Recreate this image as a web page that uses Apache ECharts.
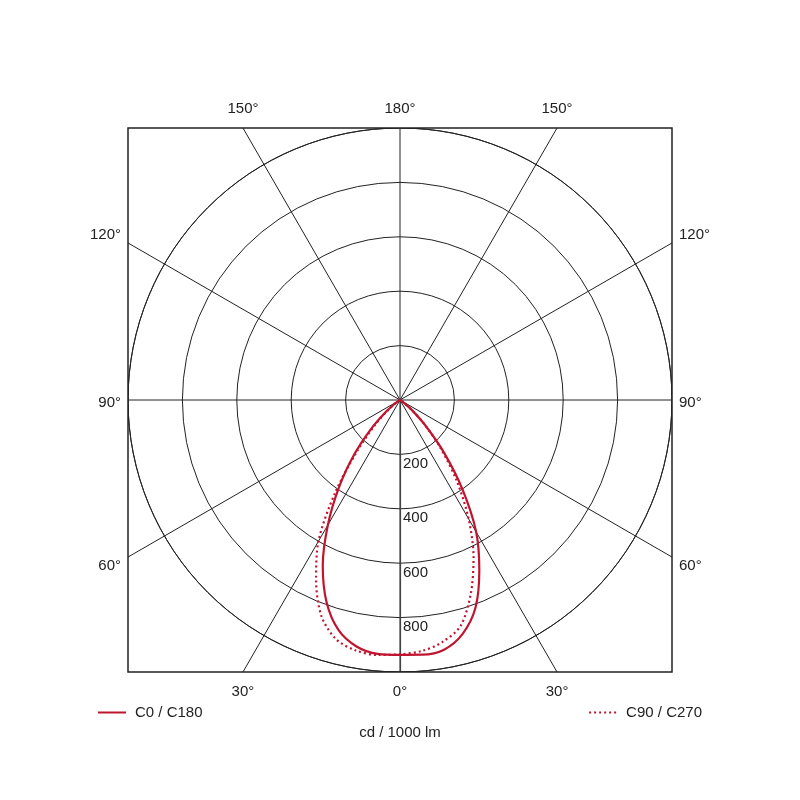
<!DOCTYPE html>
<html>
<head>
<meta charset="utf-8">
<title>Polar light distribution</title>
<script src="https://cdn.jsdelivr.net/npm/echarts@6/dist/echarts.min.js"></script>
<style>
    html, body { margin: 0; padding: 0; background: #fff; }
    #main { width: 800px; height: 800px; }
</style>
</head>
<body>
<div id="main"></div>
<script>
    // gamma angles (deg from nadir) and intensities in cd / 1000 lm
    var gammas = [0, 5, 10, 15, 20, 25, 30, 35, 40, 45, 50, 55, 60, 65, 70];
    var c0   = [937, 940, 932, 890, 812, 690, 560, 400, 250, 130, 55, 15, 3, 0, 0];
    var c180 = [937, 937, 920, 875, 790, 672, 530, 390, 262, 150, 65, 20, 4, 0, 0];
    var c90  = [935, 926, 903, 860, 760, 640, 505, 365, 235, 130, 55, 15, 3, 0, 0];
    var c270 = [935, 941, 935, 910, 845, 730, 600, 415, 245, 130, 55, 15, 3, 0, 0];

    var radiusTicks = [0, 200, 400, 600, 800, 1000];
    var angleTicks = [0, 30, 60, 90, 120, 150, 180];
    var angleTickLabels = ['0°', '30°', '60°', '90°', '120°', '150°', '180°'];
    var seriesNames = ['C0 / C180', 'C90 / C270'];
    var unitLabel = 'cd / 1000 lm';

    var CX = 400, CY = 400, R = 272;
    var RED = '#c0152f';
    var GRID = '#222';
    var FONT = 'Liberation Sans, Arial, sans-serif';

    // left half goes from 90 down to 0, right half back out to 90
    function buildCurve(left, right) {
        var pts = [];
        for (var i = gammas.length - 1; i >= 0; i--) {
            pts.push([left[i], gammas[i]]);
        }
        for (var j = 1; j < gammas.length; j++) {
            pts.push([right[j], 360 - gammas[j]]);
        }
        return pts;
    }

    // angle labels sit where each spoke leaves the square frame
    function angleLabelElements() {
        var els = [];
        for (var i = 0; i < angleTicks.length; i++) {
            var sides = (angleTicks[i] === 0 || angleTicks[i] === 180) ? [1] : [-1, 1];
            for (var k = 0; k < sides.length; k++) {
                var a = angleTicks[i] * Math.PI / 180;
                var dx = -sides[k] * Math.sin(a);
                var dy = Math.cos(a);
                if (Math.abs(dx) < 1e-9) dx = 0;
                if (Math.abs(dy) < 1e-9) dy = 0;
                var s = R / Math.max(Math.abs(dx), Math.abs(dy));
                var hx = CX + dx * s, hy = CY + dy * s;
                var st = {text: angleTickLabels[i], fill: '#222', font: '15px ' + FONT};
                var x, y;
                if (Math.abs(dy) >= Math.abs(dx)) {
                    x = hx;
                    st.align = 'center';
                    if (dy < 0) { y = hy - 12; st.verticalAlign = 'bottom'; }
                    else { y = hy + 12; st.verticalAlign = 'top'; }
                } else {
                    if (dx < 0) { x = hx - 7; st.align = 'right'; }
                    else { x = hx + 7; st.align = 'left'; }
                    if (dy < 0) { y = hy - 1; st.verticalAlign = 'bottom'; }
                    else if (dy > 0) { y = hy + 1; st.verticalAlign = 'top'; }
                    else { y = hy + 3; st.verticalAlign = 'middle'; }
                }
                st.x = x;
                st.y = y;
                els.push({type: 'text', z: 30, style: st});
            }
        }
        return els;
    }

    var masks = [
        {type: 'rect', z: 10, shape: {x: 0, y: 0, width: 800, height: CY - R}, style: {fill: '#fff'}},
        {type: 'rect', z: 10, shape: {x: 0, y: CY + R, width: 800, height: 800 - CY - R}, style: {fill: '#fff'}},
        {type: 'rect', z: 10, shape: {x: 0, y: 0, width: CX - R, height: 800}, style: {fill: '#fff'}},
        {type: 'rect', z: 10, shape: {x: CX + R, y: 0, width: 800 - CX - R, height: 800}, style: {fill: '#fff'}},
        {type: 'rect', z: 20, shape: {x: CX - R, y: CY - R, width: 2 * R, height: 2 * R},
            style: {fill: 'none', stroke: GRID, lineWidth: 1.5}}
    ];

    var legendBase = {
        top: 705,
        z: 30,
        padding: 0,
        itemWidth: 28,
        itemHeight: 14,
        itemStyle: {color: 'transparent', borderWidth: 0},
        textStyle: {fontFamily: FONT, fontSize: 15, color: '#222', padding: [0, 0, 0, 4]}
    };

    var myChart = echarts.init(document.getElementById('main'), null, {renderer: 'canvas'});
    myChart.setOption({
        animation: false,
        backgroundColor: '#fff',
        title: {
            text: unitLabel,
            left: 'center',
            top: 720,
            z: 30,
            textStyle: {fontFamily: FONT, fontSize: 15, fontWeight: 'normal', color: '#222'}
        },
        legend: [
            echarts.util.merge({data: [seriesNames[0]], left: 97}, legendBase),
            echarts.util.merge({data: [seriesNames[1]], right: 98}, legendBase)
        ],
        polar: [
            {center: [CX, CY], radius: R},
            {center: [CX, CY], radius: R * Math.SQRT2}
        ],
        angleAxis: [
            {
                polarIndex: 0,
                type: 'value',
                min: 0,
                max: 360,
                interval: 30,
                startAngle: 270,
                clockwise: true,
                axisLine: {show: true, lineStyle: {color: GRID, width: 1}},
                axisTick: {show: false},
                axisLabel: {show: false},
                splitLine: {show: false}
            },
            {
                polarIndex: 1,
                type: 'value',
                min: 0,
                max: 360,
                interval: 30,
                startAngle: 270,
                clockwise: true,
                axisLine: {show: false},
                axisTick: {show: false},
                axisLabel: {show: false},
                splitLine: {show: true, lineStyle: {color: GRID, width: 1}}
            }
        ],
        radiusAxis: [
            {
                polarIndex: 0,
                type: 'value',
                min: radiusTicks[0],
                max: radiusTicks[radiusTicks.length - 1],
                interval: 200,
                axisLine: {show: true, lineStyle: {color: '#444', width: 1.2}},
                axisTick: {show: false},
                axisLabel: {
                    showMinLabel: false,
                    showMaxLabel: false,
                    margin: 3,
                    verticalAlign: 'top',
                    padding: [2, 0, 0, 0],
                    fontFamily: FONT,
                    fontSize: 15,
                    color: '#222'
                },
                splitLine: {show: true, lineStyle: {color: GRID, width: 1}}
            },
            {
                polarIndex: 1,
                type: 'value',
                min: 0,
                max: 1000,
                show: false
            }
        ],
        series: [
            {
                name: seriesNames[0],
                type: 'line',
                coordinateSystem: 'polar',
                polarIndex: 0,
                symbol: 'none',
                smooth: 0.3,
                z: 5,
                lineStyle: {color: RED, width: 2.2, type: 'solid'},
                itemStyle: {color: RED},
                data: buildCurve(c180, c0)
            },
            {
                name: seriesNames[1],
                type: 'line',
                coordinateSystem: 'polar',
                polarIndex: 0,
                symbol: 'none',
                smooth: 0.3,
                z: 5,
                lineStyle: {color: RED, width: 2.2, type: [2, 3]},
                itemStyle: {color: RED},
                data: buildCurve(c270, c90)
            }
        ],
        graphic: masks.concat(angleLabelElements())
    });
</script>
</body>
</html>
